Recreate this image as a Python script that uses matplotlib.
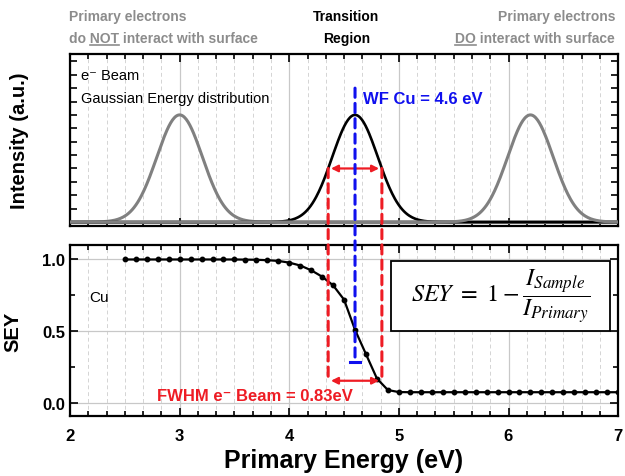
import numpy as np
import matplotlib
matplotlib.use("Agg")
import matplotlib.pyplot as plt
from matplotlib.ticker import MultipleLocator, NullFormatter
from matplotlib.patches import ConnectionPatch, Rectangle
from matplotlib.lines import Line2D

plt.rcParams['font.family'] = ['Liberation Sans', 'DejaVu Sans']

# gaussian beams (center, FWHM as drawn, colour)
beam_centers = [3.0, 4.6, 6.2]
beam_colors = ["#808080", "black", "#808080"]
beam_fwhm = 0.49
beam_amp = 0.8

# SEY of Cu vs primary energy
energy = [2.5, 2.6, 2.7, 2.8, 2.9, 3.0, 3.1, 3.2, 3.3, 3.4, 3.5, 3.6, 3.7, 3.8, 3.9,
          4.0, 4.1, 4.2, 4.3, 4.4, 4.5, 4.6, 4.7, 4.8, 4.9,
          5.0, 5.1, 5.2, 5.3, 5.4, 5.5, 5.6, 5.7, 5.8, 5.9,
          6.0, 6.1, 6.2, 6.3, 6.4, 6.5, 6.6, 6.7, 6.8, 6.9, 7.0]
sey = [1.0, 1.0, 1.0, 1.0, 1.0, 1.0, 1.0, 1.0, 1.0, 1.0, 1.0, 0.999, 0.998, 0.995, 0.99,
       0.978, 0.958, 0.925, 0.88, 0.82, 0.72, 0.51, 0.34, 0.17, 0.09,
       0.076, 0.075, 0.075, 0.075, 0.075, 0.075, 0.075, 0.075, 0.075, 0.075,
       0.075, 0.075, 0.075, 0.075, 0.075, 0.075, 0.075, 0.075, 0.075, 0.075, 0.075]

wf = 4.6
fwhm_lo, fwhm_hi = 4.355, 4.845

red = "#ee1c24"
blue = "#1010ee"
gray_txt = "#8c8c8c"

fig = plt.figure(figsize=(6.25, 4.77), dpi=100)
ax1 = fig.add_axes([0.112, 0.524, 0.877, 0.361])
ax2 = fig.add_axes([0.112, 0.126, 0.877, 0.358])

for ax in (ax1, ax2):
    ax.set_xlim(2, 7)
    ax.xaxis.set_major_locator(MultipleLocator(1))
    ax.xaxis.set_minor_locator(MultipleLocator(1/6))
    ax.tick_params(which='both', direction='in', top=True, right=True, width=1.2)
    ax.tick_params(which='major', length=6)
    ax.tick_params(which='minor', length=3.5)
    ax.grid(axis='x', which='major', color='#c8c8c8', lw=0.9)
    ax.grid(axis='x', which='minor', color='#d4d4d4', lw=0.7, ls=(0, (4, 3)))
    for s in ax.spines.values():
        s.set_linewidth(1.6)
    ax.set_axisbelow(True)

# top panel: gaussians
x = np.linspace(2, 7, 600)
sig = beam_fwhm / 2.3548
for c, col in zip(beam_centers, beam_colors):
    ax1.plot(x, beam_amp * np.exp(-(x - c) ** 2 / (2 * sig ** 2)), color=col,
             lw=2.2 if col != "black" else 1.9, zorder=3)
ax1.axhline(0, color="#808080", lw=2.2, zorder=2)
ax1.set_ylim(-0.03, 1.256)
ax1.yaxis.set_major_locator(MultipleLocator(0.1))
ax1.tick_params(which='major', axis='y', length=5)
ax1.xaxis.set_major_formatter(NullFormatter())
ax1.yaxis.set_major_formatter(NullFormatter())
ax1.set_ylabel("Intensity (a.u.)", fontsize=14.5, fontweight='bold')
ax1.yaxis.set_label_coords(-0.075, 0.5)
ax1.text(2.1, 1.1, "e\u207b Beam", fontsize=10.5, va='center')
ax1.text(2.1, 0.93, "Gaussian Energy distribution", fontsize=10.5, va='center')
ax1.text(4.67, 0.92, "WF Cu = 4.6 eV", fontsize=12, fontweight='bold', color=blue, va='center')
ax1.annotate("", xy=(fwhm_lo, beam_amp / 2), xytext=(fwhm_hi, beam_amp / 2),
             arrowprops=dict(arrowstyle='<|-|>', color=red, lw=1.6, mutation_scale=10), zorder=5)

# bottom panel: SEY
ax2.plot(energy, sey, color='black', lw=1.6, marker='o', ms=3.2, zorder=4)
ax2.set_ylim(-0.09, 1.1)
ax2.set_yticks([0, 0.5, 1.0])
ax2.set_yticklabels(["0.0", "0.5", "1.0"])
ax2.yaxis.set_minor_locator(MultipleLocator(0.25))
ax2.grid(axis='y', which='major', color='#c8c8c8', lw=0.9)
ax2.set_xticks([2, 3, 4, 5, 6, 7])
for lab in ax2.get_xticklabels() + ax2.get_yticklabels():
    lab.set_fontweight('bold')
    lab.set_fontsize(12)
ax2.tick_params(axis='x', pad=9)
ax2.set_ylabel("SEY", fontsize=14.5, fontweight='bold')
ax2.yaxis.set_label_coords(-0.087, 0.5)
ax2.set_xlabel("Primary Energy (eV)", fontsize=18, fontweight='bold', labelpad=3)
ax2.text(2.18, 0.74, "Cu", fontsize=11, va='center')
ax2.text(4.58, 0.055, "FWHM e\u207b Beam = 0.83eV", fontsize=12, fontweight='bold',
         color=red, va='center', ha='right')
ax2.annotate("", xy=(fwhm_lo, 0.155), xytext=(fwhm_hi, 0.155),
             arrowprops=dict(arrowstyle='<|-|>', color=red, lw=1.6, mutation_scale=10), zorder=5)
ax2.plot([wf - 0.045, wf + 0.045], [0.285, 0.285], color=blue, lw=2.2, zorder=5)

box = Rectangle((4.93, 0.5), 2.0, 0.49, fill=True, facecolor='white', edgecolor='black', lw=1.3, zorder=6)
ax2.add_patch(box)
ax2.text(5.93, 0.745, r"$SEY\ =\ 1 - \dfrac{I_{Sample}}{I_{Primary}}$", fontsize=17.5,
         math_fontfamily='stix', ha='center', va='center', zorder=7)

# dashed lines crossing both panels
for xv in (fwhm_lo, fwhm_hi):
    cp = ConnectionPatch(xyA=(xv, beam_amp / 2), coordsA=ax1.transData,
                         xyB=(xv, 0.155), coordsB=ax2.transData,
                         color=red, lw=2.2, ls=(0, (3, 2)), zorder=6)
    fig.add_artist(cp)
cp = ConnectionPatch(xyA=(wf, 1.0), coordsA=ax1.transData,
                     xyB=(wf, 0.285), coordsB=ax2.transData,
                     color=blue, lw=2.2, ls=(0, (3, 2)), zorder=6)
fig.add_artist(cp)

# header texts
fs = 10
y1, y2 = 1 - 17 / 477, 1 - 39 / 477
xl, xr = 0.110, 0.984
fig.text(xl, y1, "Primary electrons", color=gray_txt, fontweight='bold', fontsize=fs, va='center')
fig.text(xl, y2, "do NOT interact with surface", color=gray_txt, fontweight='bold', fontsize=fs, va='center')
fig.text(0.554, y1, "Transition", color='black', fontweight='bold', fontsize=fs, va='center', ha='center')
fig.text(0.554, y2, "Region", color='black', fontweight='bold', fontsize=fs, va='center', ha='center')
fig.text(xr, y1, "Primary electrons", color=gray_txt, fontweight='bold', fontsize=fs, va='center', ha='right')
fig.text(xr, y2, "DO interact with surface", color=gray_txt, fontweight='bold', fontsize=fs, va='center', ha='right')

# underline NOT and DO
fig.canvas.draw()
r = fig.canvas.get_renderer()
W, H = fig.bbox.width, fig.bbox.height


def width_of(s):
    t = fig.text(0, 0, s, fontweight='bold', fontsize=fs)
    w = t.get_window_extent(r).width
    t.remove()
    return w


uy = y2 - 7 / 477
x0 = xl * W + width_of("do NOT") - width_of("NOT")
x1 = xl * W + width_of("do NOT")
fig.add_artist(Line2D([x0 / W, x1 / W], [uy, uy], color=gray_txt, lw=1.2))
full = width_of("DO interact with surface")
x0 = xr * W - full
x1 = x0 + width_of("DO")
fig.add_artist(Line2D([x0 / W, x1 / W], [uy, uy], color=gray_txt, lw=1.2))

fig.savefig("out.png", dpi=100)
